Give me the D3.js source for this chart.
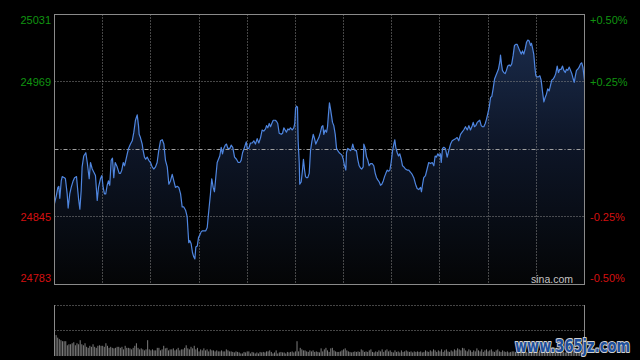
<!DOCTYPE html>
<html><head><meta charset="utf-8">
<script src="https://cdn.jsdelivr.net/npm/d3@7"></script>
<style>html,body{margin:0;padding:0;background:#000;}svg{display:block}</style>
</head><body>
<svg id="c" width="640" height="360"></svg>
<script>
// ---- data ----
const prevClose = 24907;
const leftTickLabels = ["25031", "24969", "24845", "24783"];
const rightTickLabels = ["+0.50%", "+0.25%", "-0.25%", "-0.50%"];
const tickPct = [0.005, 0.0025, -0.0025, -0.005];
const gridMinutes = [30, 60, 90, 120, 150, 180, 210, 240, 270, 300];
// minutes since 09:30 (trading minutes) and index level
const minutes = [0,1.2,2.1,2.7,3.3,4.2,4.8,6.2,6.8,7.9,8.5,9.5,10.4,11.6,12.5,13.7,14.5,15.1,15.8,16.6,17.2,18.2,19.5,20.4,21.6,22.4,23.5,24.5,25.5,26.6,27.4,28.6,29.5,30.3,31.1,31.9,32.8,33.6,34.4,35.3,36.1,36.9,37.8,39.0,40.3,41.1,41.9,42.8,43.6,44.4,45.3,46.1,47.3,48.4,49.4,50.4,51.5,52.3,52.7,53.5,54.6,55.2,56.0,56.8,57.7,58.7,59.8,60.8,61.8,62.9,63.9,64.9,66.0,67.1,68.1,69.1,70.2,71.2,72.2,73.3,74.3,75.3,76.4,77.4,78.5,79.5,80.5,81.6,82.6,83.0,83.6,84.2,85.1,85.9,86.7,87.4,88.0,88.9,89.7,90.5,91.3,92.1,93.0,94.2,95.1,95.7,96.3,97.1,97.9,98.8,99.6,100.4,101.3,102.1,102.9,103.8,104.6,105.4,106.3,107.1,107.9,109.2,110.0,111.0,112.1,113.3,114.4,115.4,116.2,117.1,118.3,119.4,120.0,121.0,122.0,123.1,124.1,125.1,126.2,127.2,128.3,129.3,130.3,131.4,132.0,132.8,133.7,134.5,135.3,136.2,137.4,138.2,139.0,139.9,141.2,142.0,142.8,143.6,144.4,145.3,146.1,146.9,148.0,149.0,149.6,150.1,150.7,151.3,151.7,152.4,152.7,153.6,154.4,155.0,155.7,156.3,156.9,157.7,158.6,159.4,160.2,161.1,161.9,162.7,163.6,164.6,165.6,166.4,167.1,167.7,168.5,169.4,170.0,170.6,171.2,171.8,172.5,173.1,173.9,174.8,175.6,176.4,177.3,178.1,178.9,179.8,180.6,181.4,181.8,182.6,183.5,184.3,185.1,185.7,186.4,187.2,188.0,188.8,189.7,190.5,191.3,192.2,192.6,193.5,194.3,195.1,195.9,196.8,197.8,198.8,199.7,200.5,201.3,202.2,203.0,203.8,204.7,205.5,206.3,207.2,208.0,208.8,209.6,210.5,211.3,211.9,212.5,213.4,214.2,215.0,215.9,216.7,217.5,218.5,219.6,220.6,221.7,222.7,223.7,224.8,225.8,226.8,227.9,228.5,229.1,229.9,231.0,232.0,233.0,234.1,235.2,236.2,237.0,237.8,238.7,239.5,240.3,240.8,241.6,242.4,243.4,244.5,245.5,246.6,247.6,248.6,249.7,250.7,251.7,252.8,253.8,254.8,255.9,257.0,258.0,259.0,260.1,260.7,261.5,262.3,263.2,264.0,264.8,265.7,266.5,267.3,268.2,269.0,269.8,270.7,271.5,272.3,273.1,274.0,274.8,275.6,276.4,277.3,277.7,278.3,278.9,279.7,280.6,281.4,282.2,283.1,283.9,284.7,285.6,286.4,287.2,288.1,288.9,289.7,290.6,291.4,292.2,293.1,293.9,294.7,295.6,296.4,297.0,297.6,298.4,299.1,299.7,300.5,301.3,302.2,303.0,303.8,304.7,305.5,306.3,307.1,308.0,308.8,309.6,310.5,311.3,312.1,313.0,313.8,314.6,315.5,316.3,317.1,318.0,318.8,319.6,320.5,321.3,322.1,323.0,323.6,324.2,325.0,325.8,326.7,327.5,328.3,329.0,330];
const prices = [24857,24865,24872,24873,24862,24878,24882,24881,24880,24866,
24853,24866,24872,24878,24881,24882,24869,24860,24852,24869,
24891,24901,24904,24895,24880,24895,24889,24886,24883,24860,
24872,24880,24883,24872,24866,24866,24874,24878,24874,24897,
24899,24881,24895,24891,24885,24885,24888,24895,24892,24897,
24903,24908,24912,24915,24923,24934,24939,24929,24921,24918,
24912,24906,24900,24898,24900,24897,24895,24891,24889,24891,
24895,24906,24915,24916,24912,24897,24891,24875,24878,24884,
24878,24872,24873,24872,24866,24854,24854,24851,24845,24835,
24821,24823,24820,24812,24808,24806,24817,24818,24826,24828,
24831,24832,24832,24832,24835,24845,24854,24866,24880,24872,
24868,24881,24895,24898,24901,24909,24903,24908,24911,24912,
24908,24908,24911,24909,24900,24898,24895,24895,24897,24904,
24909,24914,24908,24908,24913,24913,24915,24912,24917,24913,
24918,24925,24924,24926,24929,24927,24931,24928,24931,24934,
24934,24933,24931,24922,24921,24922,24927,24925,24923,24926,
24925,24927,24925,24927,24931,24945,24947,24946,24915,24894,
24875,24877,24888,24898,24888,24882,24881,24881,24885,24906,
24914,24921,24917,24912,24915,24918,24923,24928,24929,24921,
24925,24923,24928,24940,24950,24945,24938,24932,24929,24921,
24908,24906,24904,24903,24902,24898,24892,24888,24904,24908,
24907,24906,24908,24912,24908,24906,24906,24898,24892,24890,
24889,24891,24912,24908,24900,24897,24892,24894,24894,24892,
24885,24881,24879,24877,24874,24875,24878,24882,24885,24888,
24887,24888,24895,24906,24912,24916,24909,24904,24901,24903,
24898,24892,24891,24889,24888,24888,24886,24884,24881,24875,
24871,24870,24872,24868,24874,24881,24883,24889,24895,24894,
24895,24892,24901,24900,24903,24901,24903,24895,24908,24909,
24908,24900,24906,24912,24915,24916,24917,24918,24915,24921,
24923,24925,24928,24925,24929,24925,24929,24932,24928,24929,
24932,24933,24934,24929,24928,24928,24931,24935,24940,24946,
24955,24956,24963,24972,24975,24978,24981,24988,24994,24986,
24980,24978,24977,24980,24984,24985,24984,24986,24994,25003,
25004,25004,25001,24998,24995,24998,24995,25000,25006,25008,
25007,25003,25005,25001,24995,24983,24975,24974,24974,24975,
24971,24961,24951,24955,24958,24963,24961,24966,24971,24972,
24974,24977,24984,24978,24981,24981,24984,24980,24978,24981,
24980,24983,24980,24977,24972,24969,24974,24980,24981,24983,
24986,24987,24983,24971];
// per-minute volume (relative units), minute 0..330
const volumes = [100,41,36,33,31,29,29,29,21,23,23,25,27,21,25,23,31,23,21,25,
18,16,20,18,23,18,16,20,21,20,20,18,25,20,16,18,16,15,16,18,18,16,18,13,20,16,
16,15,13,16,20,25,16,13,15,13,11,13,31,13,11,13,11,11,16,16,11,13,20,15,16,11,
13,13,15,11,13,16,11,13,13,16,21,15,13,18,15,20,13,16,9,13,11,15,11,13,9,13,
11,11,9,11,9,9,11,9,9,13,11,9,
9,8,7,9,8,7,5,5,8,7,9,9,5,8,7,5,7,5,8,7,8,7,
9,9,11,8,5,7,11,5,7,8,7,7,5,8,7,8,9,7,9,29,
9,16,13,11,11,9,8,11,9,11,8,9,8,7,15,9,13,16,11,8,
15,16,11,9,8,8,9,11,13,15,11,9,8,7,8,9,8,9,8,13,
11,8,9,8,11,13,8,7,9,8,11,9,13,8,11,13,9,11,8,7,
11,8,9,7,11,8,9,11,9,
8,9,7,9,8,9,8,9,7,8,11,9,8,11,9,13,11,8,11,9,13,8,11,13,9,8,11,9,13,11,
15,13,11,16,15,11,9,13,11,8,11,9,15,11,9,13,8,11,13,9,11,13,9,8,11,13,9,8,11,9,
8,9,7,8,9,
9,8,11,7,9,8,9,11,8,7,9,11,8,9,7,8,11,9,8,9,7,9,8,11,9,8,7,9,11,8,9,8,7,9,11,9,8,9,11,8,9,7,8,11,13];

// ---- drawing ----
const svg = d3.select("#c");
const L = 54.5, R = 584.5, T = 14.5, B = 284.5;
const VT = 305, VB = 356;
const FONT = "'Liberation Sans', Arial, sans-serif";

svg.append("rect").attr("width", 640).attr("height", 360).attr("fill", "#000");

const x = d3.scaleLinear().domain([0, 330]).range([L, R]);
const y = d3.scaleLinear().domain([prevClose * 0.995, prevClose * 1.005]).range([B, T]);
const vy = d3.scaleLinear().domain([0, d3.max(volumes)]).range([VB, VT]);

const pts = minutes.map((m, i) => [m, prices[i]]);

const defs = svg.append("defs");
const grad = defs.append("linearGradient").attr("id", "g")
  .attr("gradientUnits", "userSpaceOnUse").attr("x1", 0).attr("x2", 0).attr("y1", T).attr("y2", B);
grad.append("stop").attr("offset", 0).attr("stop-color", "#1c2e50");
grad.append("stop").attr("offset", 0.5).attr("stop-color", "#0d1526");
grad.append("stop").attr("offset", 1).attr("stop-color", "#040506");

// area
svg.append("path").datum(pts)
  .attr("d", d3.area().x(d => x(d[0])).y0(B).y1(d => y(d[1])))
  .attr("fill", "url(#g)");

// grid
const crisp = v => Math.round(v - 0.5) + 0.5;
const grid = svg.append("g").attr("stroke", "#8a8a8a").attr("stroke-width", 1).attr("stroke-dasharray", "1,2");
tickPct.filter(p => Math.abs(p) < 0.005).forEach(p => {
  const yy = crisp(y(prevClose * (1 + p)));
  grid.append("line").attr("x1", L).attr("x2", R).attr("y1", yy).attr("y2", yy);
});
gridMinutes.forEach(m => {
  const xx = crisp(x(m));
  grid.append("line").attr("x1", xx).attr("x2", xx).attr("y1", T).attr("y2", B);
});
// prev close line (dash-dot)
{
  const yy = crisp(y(prevClose));
  svg.append("line").attr("x1", L).attr("x2", R).attr("y1", yy).attr("y2", yy)
    .attr("stroke", "#a0a0a0").attr("stroke-width", 1).attr("stroke-dasharray", "4,2,1,2");
}

// price line
svg.append("path").datum(pts)
  .attr("d", d3.line().x(d => x(d[0])).y(d => y(d[1])))
  .attr("fill", "none").attr("stroke", "#4f86e0").attr("stroke-width", 1.2)
  .attr("stroke-linejoin", "round");

// frame
svg.append("rect").attr("x", L).attr("y", T).attr("width", R - L).attr("height", B - T)
  .attr("fill", "none").attr("stroke", "#8a8a8a").attr("stroke-width", 1);

// labels
const lab = svg.append("g").attr("font-family", FONT).attr("font-size", 11);
tickPct.forEach((p, i) => {
  let yy = y(prevClose * (1 + p));
  if (i === 0) yy += 6;
  if (i === tickPct.length - 1) yy -= 6;
  const col = p > 0 ? "#109410" : "#d41010";
  lab.append("text").attr("x", 51).attr("y", yy).attr("dy", "0.36em")
    .attr("text-anchor", "end").attr("fill", col).text(leftTickLabels[i]);
  lab.append("text").attr("x", 590).attr("y", yy).attr("dy", "0.36em")
    .attr("text-anchor", "start").attr("fill", col).text(rightTickLabels[i]);
});

svg.append("text").attr("x", 573).attr("y", 283).attr("text-anchor", "end")
  .attr("font-family", FONT).attr("font-size", 10.5).attr("fill", "#c4c4c4").text("sina.com");

// volume panel
const vg = svg.append("g").attr("stroke", "#8a8a8a").attr("stroke-width", 1).attr("stroke-dasharray", "1,2");
[VT, (VT + VB) / 2].forEach(v => {
  const yy = crisp(v);
  vg.append("line").attr("x1", L).attr("x2", R).attr("y1", yy).attr("y2", yy);
});
svg.selectAll("rect.vol").data(volumes).enter().append("rect").attr("class", "vol")
  .attr("x", (d, i) => x(i) - 0.5).attr("width", 1)
  .attr("y", d => vy(d)).attr("height", d => VB - vy(d))
  .attr("fill", "#7c7c7c");
svg.append("line").attr("x1", L).attr("x2", L).attr("y1", VT).attr("y2", VB).attr("stroke", "#8a8a8a");
svg.append("line").attr("x1", R).attr("x2", R).attr("y1", VT).attr("y2", VB).attr("stroke", "#8a8a8a");

// watermark
svg.append("text").attr("x", 515).attr("y", 352)
  .attr("font-family", "'DejaVu Sans', sans-serif").attr("font-weight", "bold").attr("font-size", 18)
  .attr("textLength", 115).attr("lengthAdjust", "spacingAndGlyphs")
  .attr("fill", "#1d4f9c").attr("stroke", "#cfcfcf").attr("stroke-width", 2.2)
  .attr("paint-order", "stroke").attr("stroke-linejoin", "round")
  .text("www.365jz.com");
</script>
</body></html>
